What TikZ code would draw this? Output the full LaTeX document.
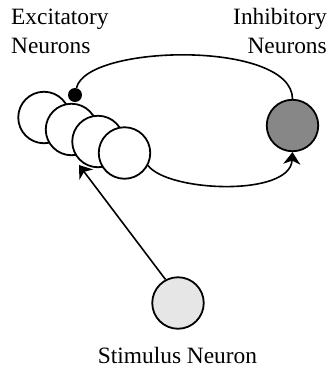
\documentclass[tikz,border=0pt]{standalone}
\usepackage{fontspec}
\setmainfont{Liberation Serif}
\usetikzlibrary{arrows.meta}
\definecolor{inhfill}{HTML}{878787}
\definecolor{stimfill}{HTML}{E6E6E6}
\tikzset{
  neuron/.style={circle, draw=black, line width=1.8bp, minimum size=51.5bp, inner sep=0pt},
  excit/.style={neuron, fill=white},
  link/.style={line width=1.6bp},
  tipstyle/.style={-{Stealth[length=12bp, width=17bp, inset=3.5bp]}},
  lbl/.style={font=\fontsize{23.4bp}{29bp}\selectfont, inner sep=0pt}
}
\begin{document}
\begin{tikzpicture}[x=1bp, y=-1bp]
  \useasboundingbox (0,0) rectangle (329,370);

  % excitatory population: four overlapping cells
  \node[excit] (e1) at (44,117.5) {};
  \node[excit] (e2) at (71.5,129.5) {};
  \node[excit] (e3) at (98,141.5) {};
  \node[excit] (e4) at (124.5,153) {};

  % inhibitory and stimulus cells
  \node[neuron, fill=inhfill] (inh) at (292.5,125.5) {};
  \node[neuron, fill=stimfill] (stim) at (178,303) {};

  % inhibitory synapse onto the excitatory cells
  \node[circle, fill=black, minimum size=14bp, inner sep=0pt] (syn) at (75,95) {};

  % labels (base anchor sits on the last line)
  \node[lbl, anchor=base west, align=left] (exclbl) at (11,53) {Excitatory\\Neurons};
  \node[lbl, anchor=base east, align=right] (inhlbl) at (327,53) {Inhibitory\\Neurons};
  \node[lbl, anchor=base] (stimlbl) at (177.5,363) {Stimulus Neuron};

  % connections
  \draw[link] (syn) .. controls (86,44) and (292,40) .. (inh.north);
  \draw[link, tipstyle] (e4.-28) .. controls (168,192) and (290,197) .. (inh.south);
  \coordinate (stimtip) at (79,165);
  \draw[link, tipstyle] (stim.118) -- (stimtip);
\end{tikzpicture}
\end{document}
